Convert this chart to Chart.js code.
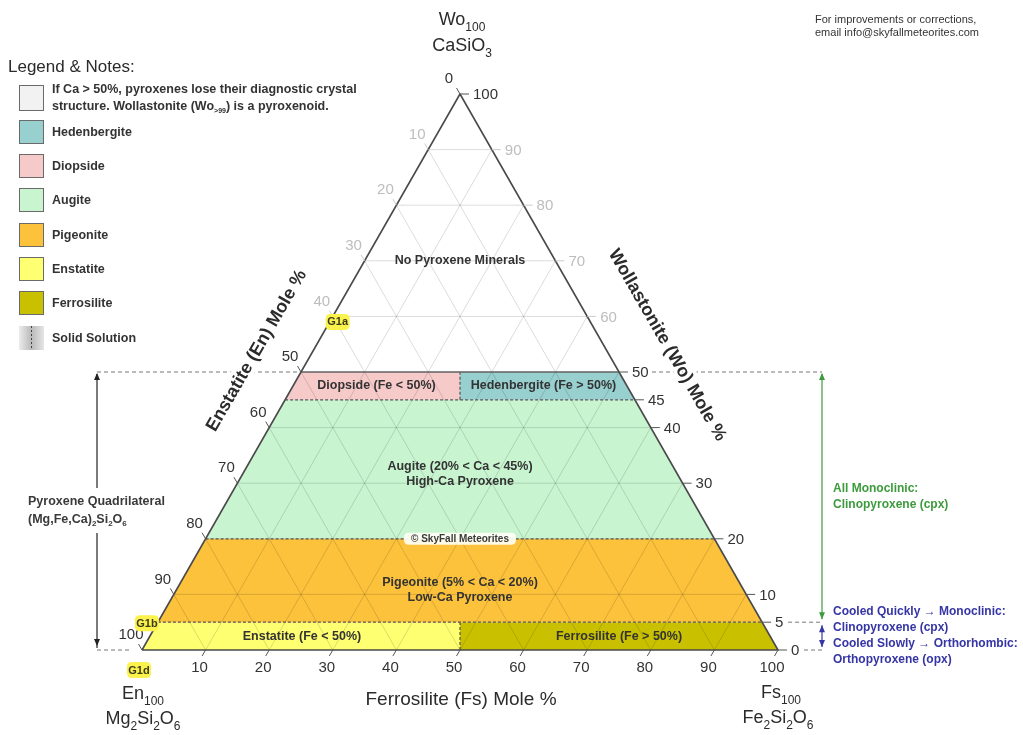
<!DOCTYPE html>
<html>
<head>
<meta charset="utf-8">
<script src="https://cdn.jsdelivr.net/npm/chart.js@4.4.1/dist/chart.umd.min.js"></script>
<style>
  html, body { margin: 0; padding: 0; background: #fff; }
  canvas { display: block; }
</style>
</head>
<body>
<canvas id="chart" width="1023" height="735"></canvas>
<script>
// Pyroxene fields, each bounded by a Wo (Ca) mole % band and, where split, by Fe 50%
const fieldNames  = ['No Pyroxene Minerals', 'Diopside', 'Hedenbergite', 'Augite', 'Pigeonite', 'Enstatite', 'Ferrosilite'];
const fieldWoMin  = [50, 45, 45, 20, 5, 0, 0];
const fieldWoMax  = [100, 50, 50, 45, 20, 5, 5];
const fieldFeSide = ['all', 'mg', 'fe', 'all', 'all', 'mg', 'fe'];
const fieldColors = ['#ffffff', '#f7caca', '#98cfcf', '#c8f5d0', '#fcc23c', '#ffff72', '#c9c100'];

// Axis ticks (mole %)
const fsTicks = [10, 20, 30, 40, 50, 60, 70, 80, 90, 100];
const enTicks = [0, 10, 20, 30, 40, 50, 60, 70, 80, 90, 100];
const woTicks = [0, 5, 10, 20, 30, 40, 45, 50, 60, 70, 80, 90, 100];
const gridSteps = [10, 20, 30, 40, 50, 60, 70, 80, 90];

// Field boundaries
const dashedWo = [45, 20, 5];
const solidWo = [50];
const feSplitBands = [[45, 50], [0, 5]];

// Sample tags placed on the En–Wo join (Fs = 0)
const tagNames = ['G1a', 'G1b', 'G1d'];
const tagWo = [59, 5, 0];

// Legend entries
const legendLabels = ['Hedenbergite', 'Diopside', 'Augite', 'Pigeonite', 'Enstatite', 'Ferrosilite'];
const legendColors = ['#98cfcf', '#f7caca', '#c8f5d0', '#fcc23c', '#ffff72', '#c9c100'];

// Ternary (Fs, Wo) -> plane: x = Fs + Wo/2, y = Wo
const T = (fs, wo) => ({ x: fs + wo / 2, y: wo });
const leftPt = wo => T(0, wo);          // En–Wo join
const rightPt = wo => T(100 - wo, wo);  // Fs–Wo join
const midPt = wo => ({ x: 50, y: wo }); // Fe = 50 % split
const GAP = { x: null, y: null };

function fieldPolygon(i) {
  const a = fieldWoMin[i], b = fieldWoMax[i], s = fieldFeSide[i];
  let pts;
  if (s === 'all') pts = [leftPt(a), rightPt(a), rightPt(b), leftPt(b)];
  else if (s === 'mg') pts = [leftPt(a), midPt(a), midPt(b), leftPt(b)];
  else pts = [midPt(a), rightPt(a), rightPt(b), midPt(b)];
  pts.push(pts[0]);
  return pts;
}

const gridPts = [];
gridSteps.forEach(v => {
  gridPts.push(leftPt(v), rightPt(v), GAP);          // Wo = v
  gridPts.push(T(v, 0), T(v, 100 - v), GAP);         // Fs = v
  gridPts.push(T(100 - v, 0), T(0, 100 - v), GAP);   // En = v
});

const dashedPts = [];
dashedWo.forEach(v => dashedPts.push(leftPt(v), rightPt(v), GAP));
feSplitBands.forEach(([a, b]) => dashedPts.push(midPt(a), midPt(b), GAP));

const solidPts = [];
solidWo.forEach(v => solidPts.push(leftPt(v), rightPt(v), GAP));

const outlinePts = [T(0, 0), T(100, 0), T(0, 100), T(0, 0)];

const base = { pointRadius: 0, pointHoverRadius: 0, tension: 0, spanGaps: false, clip: false };
const datasets = [];
fieldNames.forEach((name, i) => datasets.push(Object.assign({}, base, {
  label: name, data: fieldPolygon(i), fill: 'shape',
  backgroundColor: fieldColors[i], borderColor: 'rgba(0,0,0,0)', borderWidth: 0, order: 5
})));
datasets.push(Object.assign({}, base, { label: 'grid', data: gridPts, fill: false,
  borderColor: 'rgba(0,0,0,0.14)', borderWidth: 1, order: 4 }));
datasets.push(Object.assign({}, base, { label: 'dashed', data: dashedPts, fill: false,
  borderColor: '#555', borderWidth: 1.2, borderDash: [3, 2], order: 3 }));
datasets.push(Object.assign({}, base, { label: 'solid', data: solidPts, fill: false,
  borderColor: '#666', borderWidth: 1.5, order: 2 }));
datasets.push(Object.assign({}, base, { label: 'outline', data: outlinePts, fill: false,
  borderColor: '#4a4a4a', borderWidth: 1.6, borderJoinStyle: 'round', order: 1 }));

const FONT = '"Liberation Sans", Arial, Helvetica, sans-serif';
const font = (size, bold) => (bold ? 'bold ' : '') + size + 'px ' + FONT;

function drawText(ctx, s, x, y, size, o = {}) {
  ctx.save();
  ctx.font = font(size, o.bold);
  ctx.fillStyle = o.color || '#333';
  ctx.textAlign = o.align || 'center';
  ctx.textBaseline = 'middle';
  if (o.rotate) { ctx.translate(x, y); ctx.rotate(o.rotate); x = 0; y = 0; }
  if (o.halo) { ctx.strokeStyle = '#fff'; ctx.lineWidth = o.halo; ctx.lineJoin = 'round'; ctx.strokeText(s, x, y); }
  ctx.fillText(s, x, y);
  ctx.restore();
}

// Text with subscripts: parts = [[text, isSub], ...]; y is the main baseline
function drawRich(ctx, parts, x, y, size, o = {}) {
  ctx.save();
  const mainF = font(size, o.bold), subF = font(o.subSize || Math.round(size * 0.65), o.bold);
  let w = 0;
  parts.forEach(([t, s]) => { ctx.font = s ? subF : mainF; w += ctx.measureText(t).width; });
  let cx = o.align === 'left' ? x : x - w / 2;
  ctx.fillStyle = o.color || '#333';
  ctx.textAlign = 'left';
  ctx.textBaseline = 'alphabetic';
  parts.forEach(([t, s]) => {
    ctx.font = s ? subF : mainF;
    ctx.fillText(t, cx, s ? y + (o.subDrop || size * 0.3) : y);
    cx += ctx.measureText(t).width;
  });
  ctx.restore();
}

function line(ctx, x1, y1, x2, y2, color, width, dash) {
  ctx.save();
  ctx.strokeStyle = color; ctx.lineWidth = width || 1;
  ctx.setLineDash(dash || []);
  ctx.beginPath(); ctx.moveTo(x1, y1); ctx.lineTo(x2, y2); ctx.stroke();
  ctx.restore();
}

function arrowHead(ctx, x, y, dir, color) {
  // dir: -1 pointing up, +1 pointing down
  ctx.save();
  ctx.fillStyle = color;
  ctx.beginPath();
  ctx.moveTo(x, y);
  ctx.lineTo(x - 3, y - dir * 7);
  ctx.lineTo(x + 3, y - dir * 7);
  ctx.closePath(); ctx.fill();
  ctx.restore();
}

function roundRect(ctx, x, y, w, h, r, fill) {
  ctx.save();
  ctx.fillStyle = fill;
  ctx.beginPath();
  ctx.moveTo(x + r, y); ctx.lineTo(x + w - r, y); ctx.quadraticCurveTo(x + w, y, x + w, y + r);
  ctx.lineTo(x + w, y + h - r); ctx.quadraticCurveTo(x + w, y + h, x + w - r, y + h);
  ctx.lineTo(x + r, y + h); ctx.quadraticCurveTo(x, y + h, x, y + h - r);
  ctx.lineTo(x, y + r); ctx.quadraticCurveTo(x, y, x + r, y);
  ctx.fill();
  ctx.restore();
}

const annotations = {
  id: 'ternaryAnnotations',
  afterDraw(chart) {
    const ctx = chart.ctx;
    const xs = chart.scales.x, ys = chart.scales.y;
    const P = p => ({ x: xs.getPixelForValue(p.x), y: ys.getPixelForValue(p.y) });
    const DARK = '#333', GREY = '#bdbdbd';
    const SMALL = 12.5;

    // Fs axis (bottom)
    fsTicks.forEach(v => {
      const p = P(T(v, 0));
      line(ctx, p.x, p.y, p.x - 3.5, p.y + 6, '#555', 1);
      drawText(ctx, String(v), p.x - 6, p.y + 18, 15, { color: DARK });
    });
    // En axis (left)
    enTicks.forEach(v => {
      const p = P(leftPt(100 - v));
      const grey = v > 0 && v < 50;
      line(ctx, p.x, p.y, p.x - 3.5, p.y - 6, grey ? '#ccc' : '#555', 1);
      drawText(ctx, String(v), p.x - 11, p.y - 15, 15, { color: grey ? GREY : DARK });
    });
    // Wo axis (right)
    woTicks.forEach(v => {
      const p = P(rightPt(v));
      const grey = v > 50 && v < 100;
      line(ctx, p.x, p.y, p.x + 9, p.y, grey ? '#ccc' : '#555', 1);
      drawText(ctx, String(v), p.x + 13, p.y + 1, 15, { color: grey ? GREY : DARK, align: 'left' });
    });

    // Guide lines out to the brackets
    const y50 = P(leftPt(50)).y, y5 = P(leftPt(5)).y, y0 = P(leftPt(0)).y;
    const lx = 97, rx = 822;
    line(ctx, lx, y50, P(leftPt(50)).x - 2, y50, '#777', 1, [4, 3]);
    line(ctx, lx, y0, P(leftPt(0)).x - 12, y0, '#777', 1, [4, 3]);
    line(ctx, P(rightPt(50)).x + 33, y50, rx, y50, '#777', 1, [4, 3]);
    line(ctx, P(rightPt(5)).x + 26, y5, rx, y5, '#777', 1, [4, 3]);
    line(ctx, P(rightPt(0)).x + 26, y0, rx, y0, '#777', 1, [4, 3]);

    // Left bracket: pyroxene quadrilateral
    line(ctx, lx, y50 + 2, lx, 488, '#222', 1.2);
    line(ctx, lx, 533, lx, y0 - 2, '#222', 1.2);
    arrowHead(ctx, lx, y50 + 1, -1, '#222');
    arrowHead(ctx, lx, y0 - 4, 1, '#222');
    drawText(ctx, 'Pyroxene Quadrilateral', 28, 502, SMALL, { bold: true, align: 'left', color: '#3a3a3a' });
    drawRich(ctx, [['(Mg,Fe,Ca)', 0], ['2', 1], ['Si', 0], ['2', 1], ['O', 0], ['6', 1]], 28, 523, SMALL,
      { bold: true, align: 'left', color: '#3a3a3a', subSize: 8, subDrop: 3 });

    // Right brackets: crystal system
    const GREEN = '#3d9a3d', BLUE = '#3535a5';
    line(ctx, rx, y50 + 2, rx, y5 - 3, GREEN, 1.2);
    arrowHead(ctx, rx, y50 + 1, -1, GREEN);
    arrowHead(ctx, rx, y5 - 3, 1, GREEN);
    line(ctx, rx, y5 + 3, rx, y0 - 3, BLUE, 1.2);
    arrowHead(ctx, rx, y5 + 3, -1, BLUE);
    arrowHead(ctx, rx, y0 - 3, 1, BLUE);
    drawText(ctx, 'All Monoclinic:', 833, 489, 12, { bold: true, align: 'left', color: GREEN });
    drawText(ctx, 'Clinopyroxene (cpx)', 833, 505, 12, { bold: true, align: 'left', color: GREEN });
    drawText(ctx, 'Cooled Quickly \u2192 Monoclinic:', 833, 612, 12, { bold: true, align: 'left', color: BLUE });
    drawText(ctx, 'Clinopyroxene (cpx)', 833, 628, 12, { bold: true, align: 'left', color: BLUE });
    drawText(ctx, 'Cooled Slowly \u2192 Orthorhombic:', 833, 644, 12, { bold: true, align: 'left', color: BLUE });
    drawText(ctx, 'Orthopyroxene (opx)', 833, 660, 12, { bold: true, align: 'left', color: BLUE });

    // Axis titles along the joins
    const lMid = P(leftPt(54)), rMid = P(rightPt(55));
    drawText(ctx, 'Enstatite (En) Mole %', lMid.x - 57, lMid.y + 1, 18,
      { bold: true, color: '#2b2b2b', rotate: -Math.PI / 3, halo: 8 });
    drawText(ctx, 'Wollastonite (Wo) Mole %', rMid.x + 64, rMid.y + 1, 18,
      { bold: true, color: '#2b2b2b', rotate: Math.PI / 3, halo: 8 });
    const b0 = P(T(0, 0)), b1 = P(T(100, 0)), apex = P(T(0, 100));
    drawText(ctx, 'Ferrosilite (Fs) Mole %', (b0.x + b1.x) / 2 + 1, 700, 19, { color: '#2b2b2b' });

    // End-member labels
    drawRich(ctx, [['Wo', 0], ['100', 1]], apex.x + 2, 25, 18, { color: '#2b2b2b', subSize: 12, subDrop: 6 });
    drawRich(ctx, [['CaSiO', 0], ['3', 1]], apex.x + 2, 51, 18, { color: '#2b2b2b', subSize: 12, subDrop: 6 });
    drawRich(ctx, [['En', 0], ['100', 1]], b0.x + 1, 699, 18, { color: '#2b2b2b', subSize: 12, subDrop: 6 });
    drawRich(ctx, [['Mg', 0], ['2', 1], ['Si', 0], ['2', 1], ['O', 0], ['6', 1]], b0.x + 1, 724, 18,
      { color: '#2b2b2b', subSize: 12, subDrop: 6 });
    drawRich(ctx, [['Fs', 0], ['100', 1]], b1.x + 3, 698, 18, { color: '#2b2b2b', subSize: 12, subDrop: 6 });
    drawRich(ctx, [['Fe', 0], ['2', 1], ['Si', 0], ['2', 1], ['O', 0], ['6', 1]], b1.x, 723, 18,
      { color: '#2b2b2b', subSize: 12, subDrop: 6 });

    // Field labels
    const bandCentre = i => {
      const poly = fieldPolygon(i).slice(0, 4).map(P);
      return { x: poly.reduce((s, p) => s + p.x, 0) / 4, y: poly.reduce((s, p) => s + p.y, 0) / 4 };
    };
    const c1 = bandCentre(1), c2 = bandCentre(2), c5 = bandCentre(5), c6 = bandCentre(6);
    const mid = P(midPt(50));
    drawText(ctx, 'No Pyroxene Minerals', mid.x, P(midPt(70)).y, SMALL, { bold: true });
    drawText(ctx, 'Diopside (Fe < 50%)', c1.x, c1.y, SMALL, { bold: true });
    drawText(ctx, 'Hedenbergite (Fe > 50%)', c2.x, c2.y, SMALL, { bold: true });
    drawText(ctx, 'Augite (20% < Ca < 45%)', mid.x, P(midPt(33)).y, SMALL, { bold: true });
    drawText(ctx, 'High-Ca Pyroxene', mid.x, P(midPt(30.3)).y, SMALL, { bold: true });
    drawText(ctx, 'Pigeonite (5% < Ca < 20%)', mid.x, P(midPt(12.2)).y, SMALL, { bold: true });
    drawText(ctx, 'Low-Ca Pyroxene', mid.x, P(midPt(9.5)).y, SMALL, { bold: true });
    drawText(ctx, 'Enstatite (Fe < 50%)', c5.x - 3, c5.y, SMALL, { bold: true });
    drawText(ctx, 'Ferrosilite (Fe > 50%)', c6.x + 4, c6.y, SMALL, { bold: true });

    // Copyright tag on the Augite / Pigeonite boundary
    const cp = P(midPt(20));
    roundRect(ctx, cp.x - 56, cp.y - 6, 112, 12, 5, 'rgba(255,255,245,0.92)');
    drawText(ctx, '\u00a9 SkyFall Meteorites', cp.x, cp.y + 0.5, 10, { bold: true, color: '#3a3a3a' });

    // Sample tags
    const tagOffsets = [[8, 0], [-11, 1], [-3, 20]];
    tagNames.forEach((t, i) => {
      const p = P(leftPt(tagWo[i]));
      const cx = p.x + tagOffsets[i][0], cy = p.y + tagOffsets[i][1];
      roundRect(ctx, cx - 12, cy - 8, 24, 16, 5, '#fbf24e');
      drawText(ctx, t, cx, cy + 0.5, 11, { bold: true, color: '#3b3b1a' });
    });

    // Legend
    drawText(ctx, 'Legend & Notes:', 8, 67, 17, { align: 'left', color: '#2b2b2b' });
    const bx = 19, bw = 25, bh = 24;
    const box = (y, fill, h) => {
      ctx.save();
      ctx.fillStyle = fill; ctx.fillRect(bx, y, bw, h || bh);
      ctx.strokeStyle = '#6a6a6a'; ctx.lineWidth = 1;
      ctx.strokeRect(bx + 0.5, y + 0.5, bw - 1, (h || bh) - 1);
      ctx.restore();
    };
    box(85, '#f2f2f2', 26);
    drawText(ctx, 'If Ca > 50%, pyroxenes lose their diagnostic crystal', 52, 90, SMALL, { bold: true, align: 'left' });
    drawRich(ctx, [['structure. Wollastonite (Wo', 0], ['>99', 1], [') is a pyroxenoid.', 0]], 52, 110, SMALL,
      { bold: true, align: 'left', subSize: 7, subDrop: 3 });
    const rowY = [132, 166, 200, 235, 269, 303];
    legendLabels.forEach((lab, i) => {
      box(rowY[i] - 12, legendColors[i]);
      drawText(ctx, lab, 52, rowY[i] + 1, SMALL, { bold: true, align: 'left' });
    });
    // Solid solution swatch
    ctx.save();
    const g = ctx.createLinearGradient(bx, 0, bx + bw, 0);
    g.addColorStop(0, '#ececec'); g.addColorStop(0.5, '#b9b9b9'); g.addColorStop(1, '#e6e6e6');
    ctx.fillStyle = g; ctx.fillRect(bx, 326, bw, 24);
    ctx.restore();
    line(ctx, bx + bw / 2, 326, bx + bw / 2, 350, '#444', 1, [2, 2]);
    drawText(ctx, 'Solid Solution', 52, 339, SMALL, { bold: true, align: 'left' });

    // Contact note
    drawText(ctx, 'For improvements or corrections,', 815, 20, 11, { align: 'left', color: '#333' });
    drawText(ctx, 'email info@skyfallmeteorites.com', 815, 33, 11, { align: 'left', color: '#333' });
  }
};

new Chart(document.getElementById('chart'), {
  type: 'line',
  data: { datasets },
  options: {
    responsive: false,
    animation: false,
    events: [],
    layout: { padding: { left: 142, right: 245, top: 94, bottom: 85 } },
    scales: {
      x: { type: 'linear', min: 0, max: 100, display: false },
      y: { type: 'linear', min: 0, max: 100, display: false }
    },
    plugins: { legend: { display: false }, tooltip: { enabled: false }, title: { display: false } }
  },
  plugins: [annotations]
});
</script>
</body>
</html>
